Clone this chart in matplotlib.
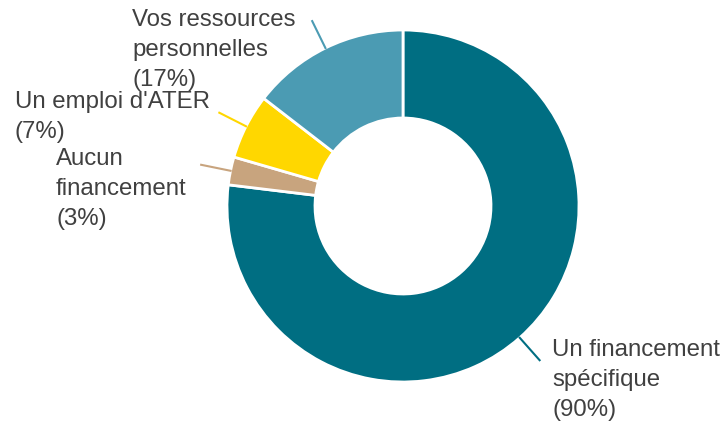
import numpy as np
import matplotlib.pyplot as plt

plt.rcParams['font.family'] = ['Liberation Sans', 'DejaVu Sans']

labels = ['Un financement\nspécifique', 'Aucun\nfinancement',
          "Un emploi d'ATER", 'Vos ressources\npersonnelles']
values = [90, 3, 7, 17]
colors = ['#006e82', '#c8a47e', '#ffd700', '#4b9bb3']

# label anchor (left edge, top of text) in image pixels
label_pos = [(552, 339), (56, 148), (15, 91), (132, 9)]

W, H = 728, 422
cx, cy, R = 403, H - 206, 176

fig = plt.figure(figsize=(W / 100, H / 100), dpi=100)
ax = fig.add_axes([0, 0, 1, 1])

wedges, _ = ax.pie(values, colors=colors, startangle=90, counterclock=False,
                   center=(cx, cy), radius=R, frame=True,
                   wedgeprops=dict(width=88, edgecolor='white', linewidth=2))

for w, lab, v, c, (tx, ty) in zip(wedges, labels, values, colors, label_pos):
    ang = np.deg2rad((w.theta1 + w.theta2) / 2)
    x0, y0 = cx + R * np.cos(ang), cy + R * np.sin(ang)
    x1, y1 = cx + (R + 30) * np.cos(ang), cy + (R + 30) * np.sin(ang)
    ax.plot([x0, x1], [y0, y1], color=c, lw=1.5)
    ax.text(tx, H - ty, f'{lab}\n({v}%)', ha='left', va='top',
            fontsize=17.3, color='#404040', linespacing=1.48,
            transform=ax.transData)

ax.set_xlim(0, W)
ax.set_ylim(0, H)
ax.set_aspect('equal')
ax.axis('off')

fig.savefig('out.png', dpi=100)
